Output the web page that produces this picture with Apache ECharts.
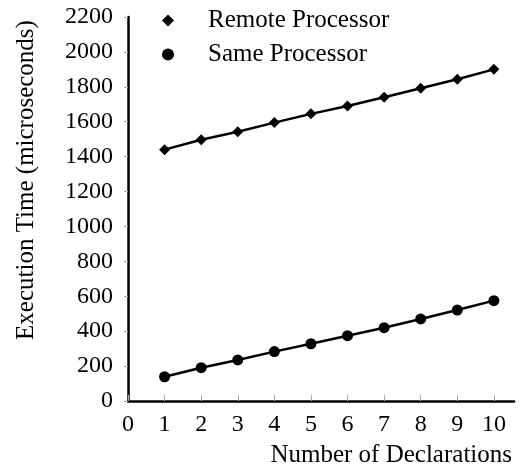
<!DOCTYPE html>
<html>
<head>
<meta charset="utf-8">
<script src="https://cdn.jsdelivr.net/npm/echarts@6/dist/echarts.min.js"></script>
<style>
  html, body { margin: 0; padding: 0; background: #fff; }
  #chart { width: 520px; height: 476px; }
</style>
</head>
<body>
<div id="chart"></div>
<script>
// Execution time versus number of declarations
const declarations = [1, 2, 3, 4, 5, 6, 7, 8, 9, 10];
const remoteProcessor = [1440, 1497, 1543, 1595, 1645, 1690, 1740, 1792, 1843, 1900];
const sameProcessor = [139, 191, 235, 283, 328, 374, 420, 470, 521, 575];
const seriesNames = ['Remote Processor', 'Same Processor'];

const FONT = '"Liberation Serif", "Times New Roman", serif';

function pairs(xs, ys) {
  return xs.map((x, i) => [x, ys[i]]);
}

const chart = echarts.init(document.getElementById('chart'), null, { renderer: 'canvas' });

chart.setOption({
  animation: false,
  backgroundColor: '#fff',
  grid: { left: 128, right: 6, top: 17, bottom: 75, containLabel: false },
  legend: {
    orient: 'vertical',
    left: 157,
    top: 3,
    itemWidth: 12,
    itemHeight: 12,
    itemGap: 9,
    textStyle: { fontFamily: FONT, fontSize: 25, color: '#000', padding: [0, 0, 0, 29] },
    data: [
      { name: seriesNames[0], icon: 'diamond' },
      { name: seriesNames[1], icon: 'circle' }
    ]
  },
  xAxis: {
    type: 'value',
    min: 0,
    max: 10.55,
    interval: 1,
    splitLine: { show: false },
    axisLine: { lineStyle: { color: '#000', width: 2.5 } },
    axisTick: { inside: true, length: 6, lineStyle: { color: '#aaa', width: 1 } },
    axisLabel: {
      margin: 12, fontFamily: FONT, fontSize: 24, color: '#000',
      showMaxLabel: false,
      formatter: v => (Number.isInteger(v) ? String(v) : '')
    }
  },
  yAxis: {
    type: 'value',
    min: 0,
    max: 2200,
    interval: 200,
    splitLine: { show: false },
    axisLine: { show: true, lineStyle: { color: '#000', width: 2.5 } },
    axisTick: { show: true, length: 4, lineStyle: { color: '#aaa', width: 1 } },
    axisLabel: {
      margin: 15, fontFamily: FONT, fontSize: 24, color: '#000',
      formatter: v => String(v)
    }
  },
  title: {
    text: 'Number of Declarations',
    right: 8,
    top: 443,
    padding: 0,
    textStyle: { fontFamily: FONT, fontSize: 25, fontWeight: 'normal', color: '#000' }
  },
  graphic: [{
    type: 'text',
    x: 26,
    y: 180,
    rotation: Math.PI / 2,
    style: {
      text: 'Execution Time (microseconds)',
      font: '25px ' + FONT,
      fill: '#000',
      align: 'center',
      verticalAlign: 'middle'
    }
  }],
  series: [
    {
      name: seriesNames[0],
      type: 'line',
      data: pairs(declarations, remoteProcessor),
      symbol: 'diamond',
      symbolSize: 11,
      showAllSymbol: true,
      lineStyle: { color: '#000', width: 2.5 },
      itemStyle: { color: '#000' }
    },
    {
      name: seriesNames[1],
      type: 'line',
      data: pairs(declarations, sameProcessor),
      symbol: 'circle',
      symbolSize: 11,
      showAllSymbol: true,
      lineStyle: { color: '#000', width: 2.5 },
      itemStyle: { color: '#000' }
    }
  ]
});
</script>
</body>
</html>
